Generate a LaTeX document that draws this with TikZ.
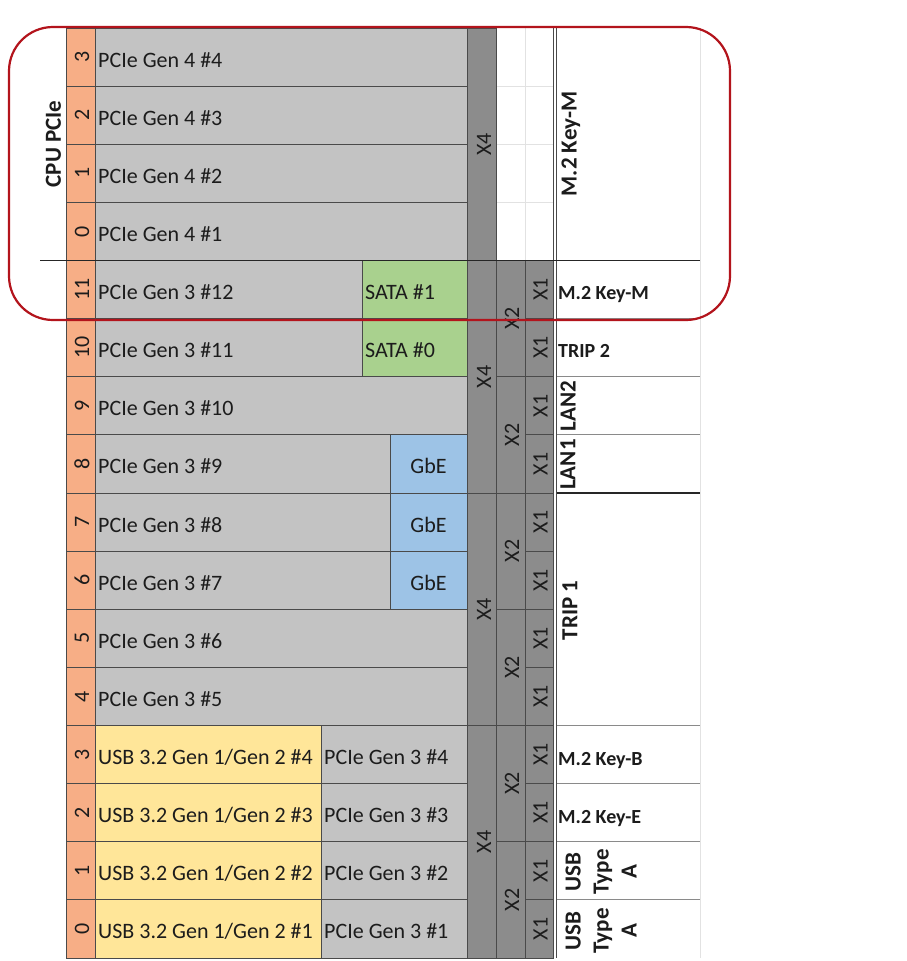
\documentclass[tikz,border=0pt]{standalone}
\usepackage{fontspec}
\setmainfont{Carlito}
\definecolor{gcell}{HTML}{C3C3C3}
\definecolor{xcell}{HTML}{8C8C8C}
\definecolor{ocell}{HTML}{F7AE86}
\definecolor{scell}{HTML}{A9D18E}
\definecolor{bcell}{HTML}{9DC3E6}
\definecolor{ycell}{HTML}{FFE699}
\definecolor{gline}{HTML}{4A4A4A}
\definecolor{lline}{HTML}{E2E2E2}
\definecolor{mline}{HTML}{8A8A8A}
\definecolor{txtc}{HTML}{1C1C1C}
\definecolor{redb}{HTML}{B3141C}
\begin{document}
\begin{tikzpicture}[x=1pt,y=-1pt,
  txt/.style={text=txtc, inner sep=0pt, font=\fontsize{22}{26}\selectfont},
  lbl/.style={text=txtc, inner sep=0pt, font=\fontsize{20}{28}\selectfont\bfseries},
  rlbl/.style={text=txtc, inner sep=0pt, rotate=90, font=\fontsize{23}{28}\selectfont\bfseries},
  cell/.style={draw=gline, line width=1pt},
]
\useasboundingbox (0,0) rectangle (906,961);
\fill[white] (0,0) rectangle (906,961);

% base rows
\foreach \i/\n in {0/3,1/2,2/1,3/0,4/11,5/10,6/9,7/8,8/7,9/6,10/5,11/4,12/3,13/2,14/1,15/0}{
  \pgfmathsetmacro\yt{28+\i*58.125}
  \pgfmathsetmacro\yb{\yt+58.125}
  \pgfmathsetmacro\yc{\yt+29.06}
  \path[cell, fill=ocell] (66,\yt) rectangle (95,\yb);
  \path[cell, fill=gcell] (95,\yt) rectangle (467,\yb);
  \node[txt, rotate=90] (num\i) at (82,\yc) {\n};
}

% lane texts
\foreach \i/\t in {0/{PCIe Gen 4 \#4},1/{PCIe Gen 4 \#3},2/{PCIe Gen 4 \#2},3/{PCIe Gen 4 \#1},
  4/{PCIe Gen 3 \#12},5/{PCIe Gen 3 \#11},6/{PCIe Gen 3 \#10},7/{PCIe Gen 3 \#9},
  8/{PCIe Gen 3 \#8},9/{PCIe Gen 3 \#7},10/{PCIe Gen 3 \#6},11/{PCIe Gen 3 \#5}}{
  \pgfmathsetmacro\yc{28+\i*58.125+29.06}
  \node[txt, anchor=base west] (lane\i) at (98,\yc+10) {\t};
}

% SATA
\foreach \i/\t in {4/{SATA \#1},5/{SATA \#0}}{
  \pgfmathsetmacro\yt{28+\i*58.125}
  \pgfmathsetmacro\yb{\yt+58.125}
  \pgfmathsetmacro\yc{\yt+29.06}
  \path[cell, fill=scell] (362,\yt) rectangle (467,\yb);
  \node[txt, anchor=base west] (sata\i) at (365,\yc+10) {\t};
}

% GbE
\foreach \i in {7,8,9}{
  \pgfmathsetmacro\yt{28+\i*58.125}
  \pgfmathsetmacro\yb{\yt+58.125}
  \pgfmathsetmacro\yc{\yt+29.06}
  \path[cell, fill=bcell] (390,\yt) rectangle (467,\yb);
  \node[txt, anchor=base] (gbe\i) at (428.5,\yc+10) {GbE};
}

% USB
\foreach \i/\k in {12/4,13/3,14/2,15/1}{
  \pgfmathsetmacro\yt{28+\i*58.125}
  \pgfmathsetmacro\yb{\yt+58.125}
  \pgfmathsetmacro\yc{\yt+29.06}
  \path[cell, fill=ycell] (95,\yt) rectangle (321,\yb);
  \path[cell, fill=gcell] (321,\yt) rectangle (467,\yb);
  \node[txt, anchor=base west] (usb\i) at (98,\yc+10) {USB 3.2 Gen 1/Gen 2 \#\k};
  \node[txt, anchor=base west] (pcie\i) at (324,\yc+10) {PCIe Gen 3 \#\k};
}

% top light grid (X2/X1 area)
\foreach \i in {1,2,3}{
  \pgfmathsetmacro\yt{28+\i*58.125}
  \draw[lline, line width=0.8pt] (496,\yt) -- (553,\yt);
}
\draw[lline, line width=0.8pt] (525,28) -- (525,261);
\draw[lline, line width=0.8pt] (700,28) -- (700,958);

% X4
\foreach \a/\b in {0/4,4/8,8/12,12/16}{
  \pgfmathsetmacro\yt{28+\a*58.125}
  \pgfmathsetmacro\yb{28+\b*58.125}
  \pgfmathsetmacro\yc{(\yt+\yb)/2}
  \path[cell, fill=xcell] (467,\yt) rectangle (496,\yb);
  \node[txt, rotate=90] (xf\a) at (484,\yc) {X4};
}
% X2
\foreach \a in {4,6,8,10,12,14}{
  \pgfmathsetmacro\yt{28+\a*58.125}
  \pgfmathsetmacro\yb{\yt+2*58.125}
  \pgfmathsetmacro\yc{(\yt+\yb)/2}
  \path[cell, fill=xcell] (496,\yt) rectangle (525,\yb);
  \node[txt, rotate=90] (xt\a) at (512,\yc) {X2};
}
% X1
\foreach \a in {4,...,15}{
  \pgfmathsetmacro\yt{28+\a*58.125}
  \pgfmathsetmacro\yb{\yt+58.125}
  \pgfmathsetmacro\yc{(\yt+\yb)/2}
  \path[cell, fill=xcell] (525,\yt) rectangle (553,\yb);
  \node[txt, rotate=90] (xo\a) at (540.5,\yc) {X1};
}

% double line
\draw[gline, line width=1pt] (553,28) -- (553,958);
\draw[gline, line width=1pt] (556.5,28) -- (556.5,958);

% right column separators
\foreach \i in {5,6,7,12,13,14,15}{
  \pgfmathsetmacro\yt{28+\i*58.125}
  \draw[mline, line width=1.2pt] (556.5,\yt) -- (700,\yt);
}
\draw[black!85, line width=1.4pt] (40,260.5) -- (700,260.5);
\draw[black!85, line width=1.4pt] (556.5,493) -- (700,493);

% labels
\node[txt, font=\fontsize{23}{26}\selectfont\bfseries, rotate=90] (cpu) at (53.5,144) {CPU PCIe};
\node[rlbl] (m2top) at (571,144) {M.2 Key-M};
\node[lbl, anchor=base west] (m2m) at (558,299.6) {M.2 Key-M};
\node[lbl, anchor=base west] (trip2) at (558,357.7) {TRIP 2};
\node[rlbl] (lan2) at (568,406) {LAN2};
\node[rlbl] (lan1) at (568,464.5) {LAN1};
\node[rlbl] (trip1) at (570,610.5) {TRIP 1};
\node[lbl, anchor=base west] (m2b) at (558,765.6) {M.2 Key-B};
\node[lbl, anchor=base west] (m2e) at (558,823.7) {M.2 Key-E};
\node[rlbl, align=center] (usba) at (601,872) {USB\\Type\\A};
\node[rlbl, align=center] (usbb) at (601,931) {USB\\Type\\A};

% red highlight
\draw[redb, line width=2.2pt, rounded corners=44pt] (9,27) rectangle (730,320);
\end{tikzpicture}
\end{document}
